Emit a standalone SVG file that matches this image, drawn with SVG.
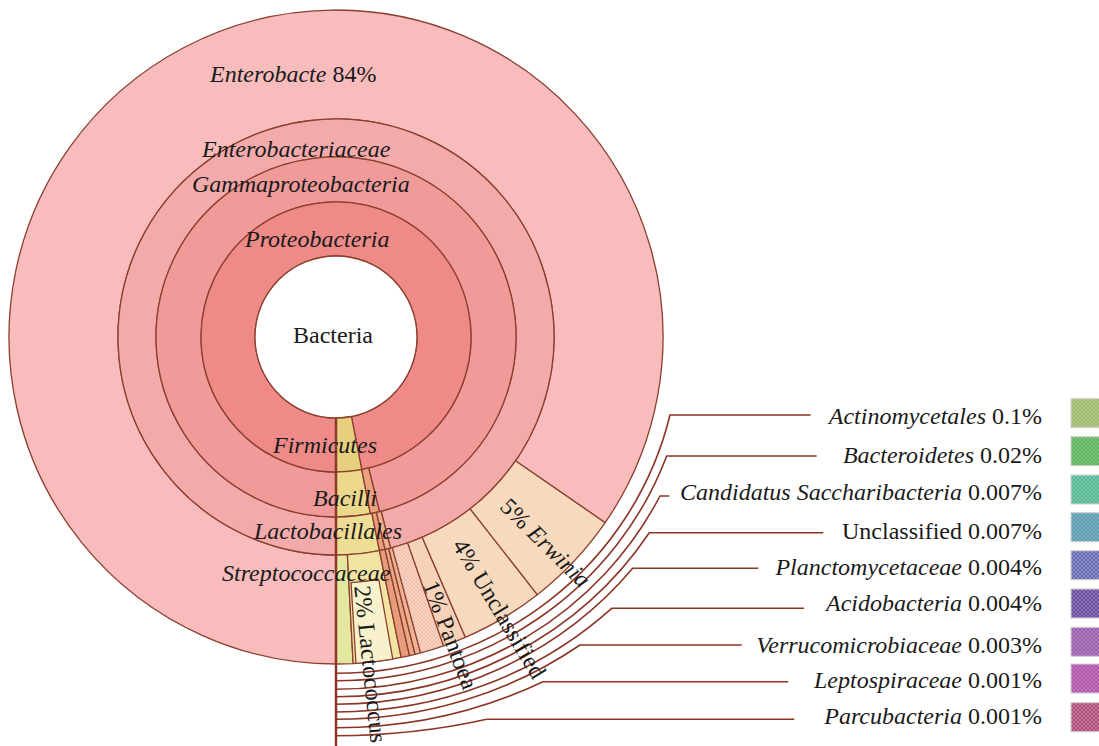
<svg xmlns="http://www.w3.org/2000/svg" width="1099" height="746" viewBox="0 0 1099 746">
<style>
.sl{stroke:#8b3f2f;stroke-width:1.3;stroke-linejoin:round}
.t{font-family:"Liberation Serif","Times New Roman",serif;font-size:24px;fill:#1a1a1a}
.i{font-style:italic}
.call{fill:none;stroke:#8c3526;stroke-width:1.6}
.sq{stroke:#cfcfcf;stroke-width:1}
</style>
<defs>
<pattern id="xh" width="4" height="4" patternUnits="userSpaceOnUse">
<path d="M0,0L4,4M4,0L0,4" stroke="#ffffff" stroke-width="0.6" opacity="0.35"/>
</pattern>
</defs>
<rect width="1099" height="746" fill="#ffffff"/>

<g id="enterobacte"><path class="sl" fill="#f8bcbc" d="M605.17,522.68 A327,327 0 1 0 336,664 L336,555 A218,218 0 1 1 515.44,460.79 Z"/></g>
<g id="enterobacteriaceae"><path class="sl" fill="#f3aaaa" d="M390.58,548.06 A218,218 0 1 0 336,555 L336,517 A180,180 0 1 1 381.07,511.27 Z"/></g>
<g id="gammaproteobacteria"><path class="sl" fill="#f09b9a" d="M379.55,511.65 A180,180 0 1 0 336,517 L336,472 A135,135 0 1 1 368.66,467.99 Z"/></g>
<g id="proteobacteria"><path class="sl" fill="#ee8a88" d="M361.76,469.52 A135,135 0 1 0 336,472 L336,418 A81,81 0 1 1 351.46,416.51 Z"/></g>
<g id="bacteria"><circle class="sl" cx="336" cy="337" r="81" fill="#ffffff"/></g>

<g id="firmicutes"><path class="sl" fill="#e6d07e" d="M336,472 A135,135 0 0 0 361.76,469.52 L351.46,416.51 A81,81 0 0 1 336,418 Z"/></g>
<g id="bacilli"><path class="sl" fill="#ebd88a" d="M336,517 A180,180 0 0 0 370.35,513.69 L361.76,469.52 A135,135 0 0 1 336,472 Z"/></g>
<g id="class-other"><path class="sl" fill="#eba07f" d="M370.35,513.69 A180,180 0 0 0 379.55,511.65 L368.66,467.99 A135,135 0 0 1 361.76,469.52 Z"/></g>
<g id="lactobacillales"><path class="sl" fill="#eedd94" d="M336,555 A218,218 0 0 0 379.46,550.62 L371.89,513.39 A180,180 0 0 1 336,517 Z"/></g>
<g id="order-other-1"><path class="sl" fill="#e8a07e" d="M379.46,550.62 A218,218 0 0 0 385.04,549.41 L376.49,512.39 A180,180 0 0 1 371.89,513.39 Z"/></g>
<g id="order-other-2"><path class="sl" fill="#eeb091" d="M385.04,549.41 A218,218 0 0 0 390.58,548.06 L381.07,511.27 A180,180 0 0 1 376.49,512.39 Z"/></g>

<g id="family-other"><path class="sl" fill="#e4e7a0" d="M336,664 A327,327 0 0 0 353.12,663.55 L347.41,554.70 A218,218 0 0 1 336,555 Z"/></g>
<g id="streptococcaceae"><path class="sl" fill="#f1e4a2" d="M353.12,663.55 A327,327 0 0 0 401.19,657.43 L379.46,550.62 A218,218 0 0 1 347.41,554.70 Z"/></g>
<g id="lactococcus"><path class="sl" fill="#f8f2cc" d="M355.96,663.39 A327,327 0 0 0 392.78,659.03 L378.72,579.26 A246,246 0 0 1 351.02,582.54 Z"/></g>
<g id="genus-other-1"><path class="sl" fill="#e79d7b" d="M401.19,657.43 A327,327 0 0 0 409.56,655.62 L385.04,549.41 A218,218 0 0 1 379.46,550.62 Z"/></g>
<g id="genus-other-2"><path class="sl" fill="#eba886" d="M409.56,655.62 A327,327 0 0 0 415.11,654.29 L388.74,548.53 A218,218 0 0 1 385.04,549.41 Z"/></g>
<g id="genus-other-3"><path class="sl" fill="#efb394" d="M415.11,654.29 A327,327 0 0 0 420.63,652.86 L392.42,547.57 A218,218 0 0 1 388.74,548.53 Z"/></g>
<g id="genus-other-4"><path class="sl" fill="#f4c4b0" d="M420.63,652.86 A327,327 0 0 0 443.54,645.81 L407.69,542.87 A218,218 0 0 1 392.42,547.57 Z"/><path fill="url(#xh)" d="M420.63,652.86 A327,327 0 0 0 443.54,645.81 L407.69,542.87 A218,218 0 0 1 392.42,547.57 Z"/></g>
<g id="pantoea"><path class="sl" fill="#f6d2b8" d="M443.54,645.81 A327,327 0 0 0 465.35,637.33 L422.23,537.22 A218,218 0 0 1 407.69,542.87 Z"/></g>
<g id="unclassified"><path class="sl" fill="#f7dabe" d="M465.35,637.33 A327,327 0 0 0 537.32,594.68 L470.21,508.79 A218,218 0 0 1 422.23,537.22 Z"/></g>
<g id="erwinia"><path class="sl" fill="#f7dabd" d="M537.32,594.68 A327,327 0 0 0 605.17,522.68 L515.44,460.79 A218,218 0 0 1 470.21,508.79 Z"/></g>

<g id="connectors">
<line x1="336" y1="418" x2="336" y2="746" stroke="#8b3a2a" stroke-width="2.5"/>
<path class="call" d="M336,673.3 A343.4,336.3 0 0 0 670,415 L810.7,415"/>
<path class="call" d="M336,680.7 A352.5,343.7 0 0 0 666.7,456 L816.7,456"/>
<path class="call" d="M336,689.3 A363,352.3 0 0 0 660,496 L669.3,496"/>
<path class="call" d="M336,696.7 A373.4,359.7 0 0 0 649.3,532.7 L823.3,532.7"/>
<path class="call" d="M336,704.3 A382,367.3 0 0 0 632.7,568.3 L758.3,568.3"/>
<path class="call" d="M336,712 A399.3,375 0 0 0 611.7,608.3 L804,608.3"/>
<path class="call" d="M336,719.3 A411.9,382.3 0 0 0 580,645 L741.7,645"/>
<path class="call" d="M336,727.7 A439.8,390.7 0 0 0 543,681.7 L788.3,681.7"/>
<path class="call" d="M336,735.7 A530.8,398.7 0 0 0 486.7,719.3 L794.3,719.3"/>
</g>

<g id="chart-labels">
<text class="t" x="210" y="82"><tspan class="i">Enterobacte</tspan> 84%</text>
<text class="t i" x="202" y="157" font-size="23">Enterobacteriaceae</text>
<text class="t i" x="192" y="192">Gammaproteobacteria</text>
<text class="t i" x="245" y="247">Proteobacteria</text>
<text class="t" x="293" y="343" font-size="23.5">Bacteria</text>
<text class="t i" x="273" y="453">Firmicutes</text>
<text class="t i" x="313" y="506">Bacilli</text>
<text class="t i" x="254" y="539">Lactobacillales</text>
<text class="t i" x="222" y="581">Streptococcaceae</text>
<g transform="translate(336,337) rotate(44.5)"><text class="t" x="236" y="8">5% <tspan class="i">Erwinia</tspan></text></g>
<g transform="translate(336,337) rotate(59)"><text class="t" x="238" y="8">4% Unclassified</text></g>
<g transform="translate(336,337) rotate(69)"><text class="t" x="262" y="8">1% Pantoea</text></g>
<g transform="translate(336,337) rotate(84)"><text class="t" x="250" y="8">2% Lactococcus</text></g>
</g>

<g id="legend">
<g id="leg-actinomycetales"><text class="t" x="1042" y="424" text-anchor="end"><tspan class="i">Actinomycetales</tspan> 0.1%</text><rect class="sq" x="1071" y="398.7" width="30" height="29" fill="#9dbb6a"/><rect x="1071" y="398.7" width="30" height="29" fill="url(#xh)"/></g>
<g id="leg-bacteroidetes"><text class="t" x="1042" y="463" text-anchor="end"><tspan class="i">Bacteroidetes</tspan> 0.02%</text><rect class="sq" x="1071" y="436.7" width="30" height="29" fill="#5cb25c"/><rect x="1071" y="436.7" width="30" height="29" fill="url(#xh)"/></g>
<g id="leg-candidatus"><text class="t" x="1042" y="500" text-anchor="end"><tspan class="i">Candidatus Saccharibacteria</tspan> 0.007%</text><rect class="sq" x="1071" y="475" width="30" height="29" fill="#56b892"/><rect x="1071" y="475" width="30" height="29" fill="url(#xh)"/></g>
<g id="leg-unclassified"><text class="t" x="1042" y="539" text-anchor="end">Unclassified 0.007%</text><rect class="sq" x="1071" y="512.7" width="30" height="29" fill="#5b9db0"/><rect x="1071" y="512.7" width="30" height="29" fill="url(#xh)"/></g>
<g id="leg-planctomycetaceae"><text class="t" x="1042" y="575" text-anchor="end"><tspan class="i">Planctomycetaceae</tspan> 0.004%</text><rect class="sq" x="1071" y="550.7" width="30" height="29" fill="#6a6db4"/><rect x="1071" y="550.7" width="30" height="29" fill="url(#xh)"/></g>
<g id="leg-acidobacteria"><text class="t" x="1042" y="611" text-anchor="end"><tspan class="i">Acidobacteria</tspan> 0.004%</text><rect class="sq" x="1071" y="589" width="30" height="29" fill="#6b4c9f"/><rect x="1071" y="589" width="30" height="29" fill="url(#xh)"/></g>
<g id="leg-verrucomicrobiaceae"><text class="t" x="1042" y="653" text-anchor="end"><tspan class="i">Verrucomicrobiaceae</tspan> 0.003%</text><rect class="sq" x="1071" y="627.3" width="30" height="29" fill="#9a5cad"/><rect x="1071" y="627.3" width="30" height="29" fill="url(#xh)"/></g>
<g id="leg-leptospiraceae"><text class="t" x="1042" y="688" text-anchor="end"><tspan class="i">Leptospiraceae</tspan> 0.001%</text><rect class="sq" x="1071" y="664" width="30" height="29" fill="#b052a8"/><rect x="1071" y="664" width="30" height="29" fill="url(#xh)"/></g>
<g id="leg-parcubacteria"><text class="t" x="1042" y="724" text-anchor="end"><tspan class="i">Parcubacteria</tspan> 0.001%</text><rect class="sq" x="1071" y="702.7" width="30" height="29" fill="#b04e78"/><rect x="1071" y="702.7" width="30" height="29" fill="url(#xh)"/></g>
</g>
</svg>
